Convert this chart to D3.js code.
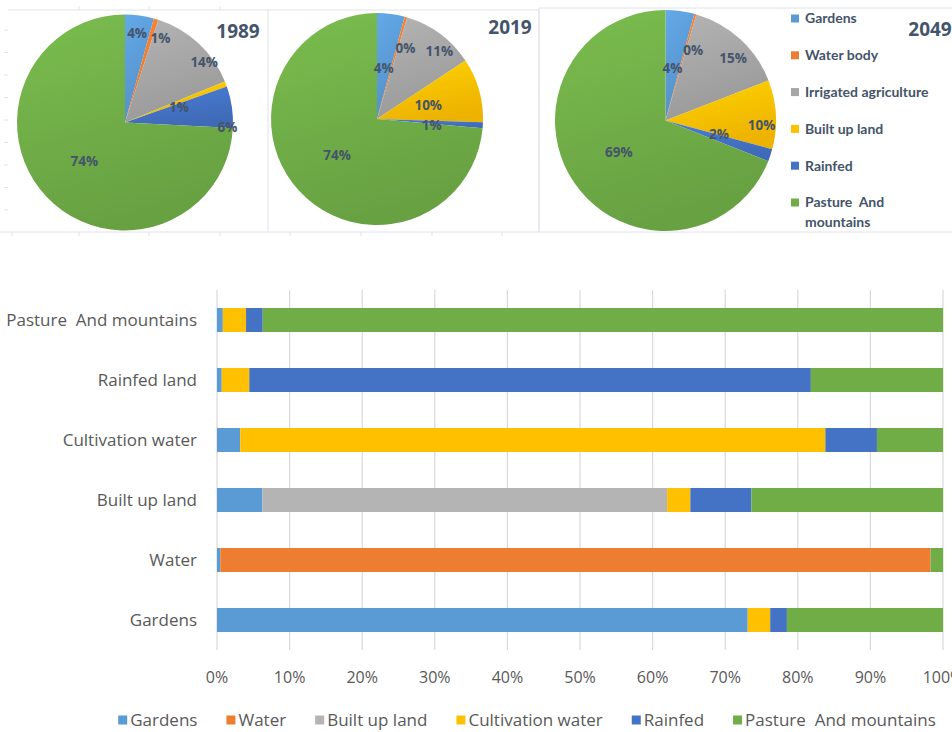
<!DOCTYPE html>
<meta charset="utf-8">
<style>
body { margin: 0; background: #fff; }
svg { display: block; }
text { white-space: pre; }
.cat, .leg text { font-family: "Open Sans", sans-serif; font-size: 17px; fill: #595959; }
.tick-label { font-family: "Open Sans", sans-serif; font-size: 16px; fill: #595959; }
.plab { font-family: "Open Sans", sans-serif; font-weight: bold; font-size: 13.5px; fill: #44546a; }
.year { font-family: "Open Sans", sans-serif; font-weight: bold; font-size: 19px; fill: #44546a; }
.pleg { font-family: Lato, sans-serif; font-weight: bold; font-size: 14px; fill: #44546a; }
</style>
<svg width="952" height="732"></svg>
<script src="https://d3js.org/d3.v7.min.js"></script>
<script>

// pie data (share of area, %)
var pieKeys = ["Gardens", "Water body", "Irrigated agriculture", "Built up land", "Rainfed", "Pasture  And mountains"]
var pie1989 = [4.3, 0.7, 13.8, 0.8, 6.2, 74.2]
var pie2019 = [4.2, 0.4, 11.1, 9.8, 0.9, 73.6]
var pie2049 = [4.2, 0.3, 14.6, 10.1, 1.8, 69.0]
var years = ["1989", "2019", "2049"]

// bar data (%), categories from top to bottom
var categories = ["Pasture  And mountains", "Rainfed land", "Cultivation water", "Built up land", "Water", "Gardens"]
var seriesNames = ["Gardens", "Water", "Built up land", "Cultivation water", "Rainfed", "Pasture  And mountains"]
var gardens    = [0.8, 0.65, 3.2, 6.25, 0.45, 73.1]
var water      = [0, 0, 0, 0, 97.85, 0]
var builtUp    = [0, 0, 0, 55.75, 0, 0]
var cultivation= [3.2, 3.8, 80.6, 3.2, 0, 3.1]
var rainfed    = [2.3, 77.35, 7.1, 8.4, 0, 2.3]
var pasture    = [93.7, 18.2, 9.1, 26.4, 1.7, 21.5]
var xTicks = [0, 10, 20, 30, 40, 50, 60, 70, 80, 90, 100]

var colors = ["#5b9bd5", "#ed7d31", "#a5a5a5", "#ffc000", "#4472c4", "#70ad47"]
var barColors = ["#5b9bd5", "#ed7d31", "#b4b4b4", "#ffc000", "#4472c4", "#70ad47"]

var svg = d3.select("svg")
var defs = svg.append("defs")
colors.forEach(function(c, i){
  var g = defs.append("linearGradient").attr("id", "g" + i)
    .attr("x1", 0).attr("y1", 0).attr("x2", 0.3).attr("y2", 1)
  g.append("stop").attr("offset", "0%").attr("stop-color", d3.color(c).brighter(0.25))
  g.append("stop").attr("offset", "100%").attr("stop-color", d3.color(c).darker(0.2))
})

// ---------- top panels ----------
var frame = svg.append("g").attr("stroke", "#dfe2e8").attr("fill", "none")
frame.append("path").attr("d", "M8,10H268V232")
frame.append("path").attr("d", "M268,10H539V232")
frame.append("path").attr("d", "M539,8H952M539,8V232H952")
frame.append("path").attr("d", "M0,232H539")
;[12, 79, 149, 220, 290, 361, 432, 502].forEach(function(x){
  frame.append("line").attr("x1", x).attr("x2", x).attr("y1", 232).attr("y2", 236)
})
;[79, 149, 220].forEach(function(x){
  frame.append("line").attr("x1", x).attr("x2", x).attr("y1", 6).attr("y2", 10)
})
d3.range(30, 225, 22.5).forEach(function(y){
  frame.append("line").attr("x1", 4).attr("x2", 8).attr("y1", y).attr("y2", y)
})

// lr = label radius (fraction of r), la = label angle nudge (deg)
var pies = [
  {data: pie1989, cx: 125, cy: 122.5, r: 108, lr: [0.83, 0.85, 0.92, 0.52, 0.95, 0.52], la: [0, 6, 10, 5, 11, 0], yx: 238, yy: 38},
  {data: pie2019, cx: 377, cy: 119, r: 106, lr: [0.48, 0.72, 0.87, 0.5, 0.52, 0.51], la: [0, 6, 6, 1, 3, 0], yx: 510, yy: 34},
  {data: pie2049, cx: 665.5, cy: 120.5, r: 110.5, lr: [0.48, 0.68, 0.83, 0.87, 0.5, 0.51], la: [0, 6, 5, 6, -4, 0], yx: 930, yy: 36}
]

var pieGen = d3.pie().sort(null)
var fmt = d3.format(".0f")

pies.forEach(function(p, pi){
  var g = svg.append("g").attr("transform", "translate(" + p.cx + "," + p.cy + ")")
  var arcs = pieGen(p.data)
  var arc = d3.arc().innerRadius(0).outerRadius(p.r)
  g.selectAll("path").data(arcs).enter().append("path")
    .attr("d", arc)
    .attr("fill", function(d, i){ return "url(#g" + i + ")" })
  g.selectAll("text").data(arcs).enter().append("text")
    .attr("class", "plab")
    .attr("text-anchor", "middle")
    .attr("dy", "0.35em")
    .attr("transform", function(d, i){
      var a = (d.startAngle + d.endAngle) / 2 + p.la[i] * Math.PI / 180, rr = p.r * p.lr[i]
      return "translate(" + (Math.sin(a) * rr) + "," + (-Math.cos(a) * rr) + ")"
    })
    .text(function(d){ return fmt(d.data) + "%" })
  svg.append("text").attr("class", "year").attr("x", p.yx).attr("y", p.yy)
    .attr("text-anchor", "middle").text(years[pi])
})

// pie legend
var pleg = svg.append("g").attr("transform", "translate(791,0)")
pieKeys.forEach(function(k, i){
  var y = 18.5 + i * 36.8
  pleg.append("rect").attr("x", 0).attr("y", y - 4).attr("width", 8).attr("height", 8).attr("fill", colors[i])
  var t = pleg.append("text").attr("class", "pleg").attr("x", 14).attr("y", y).attr("dy", "0.35em")
  if (i == 5) {
    t.text("Pasture  And")
    pleg.append("text").attr("class", "pleg").attr("x", 14).attr("y", y + 20).attr("dy", "0.35em").text("mountains")
  } else t.text(k)
})

// ---------- bar chart ----------
var x = d3.scaleLinear().domain([0, 100]).range([217, 943])
var y = d3.scaleBand().domain(categories).range([290, 650]).paddingInner(0.6).paddingOuter(0.3)

svg.append("g").selectAll("line").data(xTicks).enter().append("line")
  .attr("x1", function(d){ return x(d) }).attr("x2", function(d){ return x(d) })
  .attr("y1", 290).attr("y2", 650)
  .attr("stroke", "#d9d9d9").attr("stroke-width", 1.2)

var rows = categories.map(function(c, i){
  return {cat: c, s0: gardens[i], s1: water[i], s2: builtUp[i], s3: cultivation[i], s4: rainfed[i], s5: pasture[i]}
})
var stack = d3.stack().keys(["s0", "s1", "s2", "s3", "s4", "s5"])(rows)

svg.append("g").selectAll("g").data(stack).enter().append("g")
  .attr("fill", function(d, i){ return barColors[i] })
  .selectAll("rect").data(function(d){ return d }).enter().append("rect")
  .attr("x", function(d){ return x(d[0]) })
  .attr("width", function(d){ return x(d[1]) - x(d[0]) })
  .attr("y", function(d){ return y(d.data.cat) })
  .attr("height", y.bandwidth())

svg.append("g").selectAll("text").data(categories).enter().append("text")
  .attr("class", "cat")
  .attr("x", 197)
  .attr("y", function(d){ return y(d) + y.bandwidth() / 2 })
  .attr("dy", "0.35em")
  .attr("text-anchor", "end")
  .text(function(d){ return d })

svg.append("g").selectAll("text").data(xTicks).enter().append("text")
  .attr("class", "tick-label")
  .attr("x", function(d){ return x(d) })
  .attr("y", 677).attr("dy", "0.35em")
  .attr("text-anchor", "middle")
  .text(function(d){ return d + "%" })

// bottom legend
var leg = svg.append("g").attr("class", "leg")
var lx = 0, gap = 29
seriesNames.forEach(function(n, i){
  var it = leg.append("g")
  it.append("rect").attr("y", -4.5).attr("width", 9).attr("height", 9).attr("fill", barColors[i])
  var t = it.append("text").attr("x", 12).attr("dy", "0.35em").text(n)
  var w = 12 + t.node().getComputedTextLength()
  it.attr("transform", "translate(" + lx + ",720)")
  lx += w + gap
})
var total = lx - gap
leg.attr("transform", "translate(" + (527 - total / 2) + ",0)")

</script>
